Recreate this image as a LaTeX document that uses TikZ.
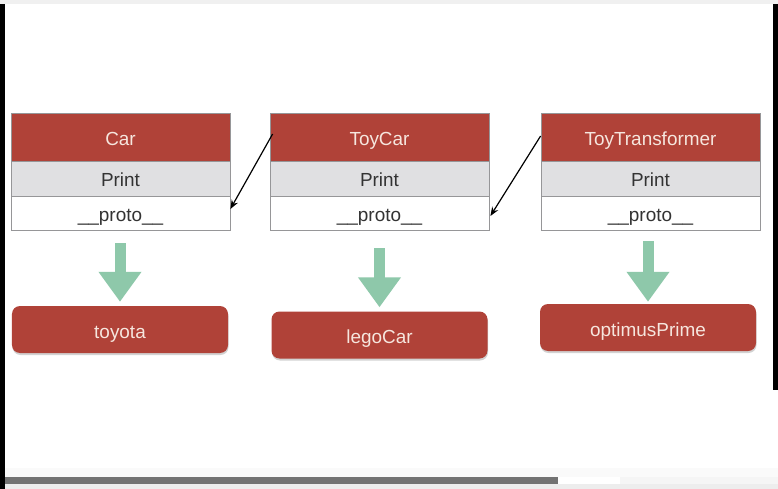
\documentclass[tikz,border=0pt]{standalone}
\usepackage{fontspec}
\setmainfont{Liberation Sans}
\usetikzlibrary{arrows.meta,shadows}
\definecolor{hdred}{RGB}{176,66,56}
\definecolor{rowgray}{RGB}{224,224,226}
\definecolor{edgegray}{RGB}{150,150,152}
\definecolor{arrgreen}{RGB}{142,200,170}
\definecolor{paletxt}{RGB}{246,230,222}
\tikzset{
  txt/.style={font=\fontsize{19}{21}\selectfont, text height=18bp, text depth=1bp},
  base/.style={txt, draw=edgegray, line width=0.8bp, minimum width=219bp, inner sep=0pt},
  headrow/.style={base, fill=hdred, text=paletxt, minimum height=48bp},
  printrow/.style={base, fill=rowgray, text=black!80, minimum height=35bp},
  protorow/.style={base, fill=white, text=black!80, minimum height=34bp},
  instbox/.style={txt, fill=hdred, text=paletxt, rounded corners=8bp, minimum width=216bp, minimum height=47bp, inner sep=0pt,
    drop shadow={shadow xshift=0.5bp, shadow yshift=-2bp, fill=black!35, opacity=0.5}},
  bigarrow/.style={draw=arrgreen, line width=11bp, -{Triangle[width=41bp,length=30bp]}},
  protolink/.style={draw=black, line width=1.2bp, -{Stealth[length=9bp,width=7bp]}}
}
\begin{document}
\begin{tikzpicture}[x=1bp,y=-1bp]
\useasboundingbox (0,0) rectangle (778,489);
\fill[white] (0,0) rectangle (778,489);
\fill[black!6] (0,0) rectangle (778,4);
\fill[black] (0,4) rectangle (5,489);
\fill[black] (773,4) rectangle (778,390);
\fill[black!2] (5,468) rectangle (778,477);
\fill[black!55] (5,477) rectangle (558,484);
\fill[black!7] (5,484) rectangle (778,489);
\fill[black!4] (620,477) rectangle (778,484);

% Car column
\node[headrow]  (carhead)  at (120.5,137)   {Car};
\node[printrow] (carprint) at (120.5,178.5) {Print};
\node[protorow] (carproto) at (120.5,213)   {\_\_proto\_\_};
% ToyCar column
\node[headrow]  (tchead)  at (379.5,137)   {ToyCar};
\node[printrow] (tcprint) at (379.5,178.5) {Print};
\node[protorow] (tcproto) at (379.5,213)   {\_\_proto\_\_};
% ToyTransformer column
\node[headrow]  (tthead)  at (650.5,137)   {ToyTransformer};
\node[printrow] (ttprint) at (650.5,178.5) {Print};
\node[protorow] (ttproto) at (650.5,213)   {\_\_proto\_\_};

% instances
\node[instbox] (toyota)  at (120,329.5) {toyota};
\node[instbox] (lego)    at (379.5,335) {legoCar};
\node[instbox] (optimus) at (648,327.5) {optimusPrime};

% green arrows
\draw[bigarrow, shorten <=13bp, shorten >=4bp] (carproto.south -| toyota.north) -- (toyota.north);
\draw[bigarrow, shorten <=18bp, shorten >=4bp] (tcproto.south -| lego.north) -- (lego.north);
\draw[bigarrow, shorten <=11bp, shorten >=2bp] (ttproto.south -| optimus.north) -- (optimus.north);

% prototype links
\draw[protolink] ([xshift=3bp,yshift=3bp]tchead.west) -- ([yshift=4bp]carproto.east);
\draw[protolink] ([xshift=0bp,yshift=1bp]tthead.west) -- ([xshift=1bp,yshift=-3bp]tcproto.east);
\end{tikzpicture}
\end{document}
